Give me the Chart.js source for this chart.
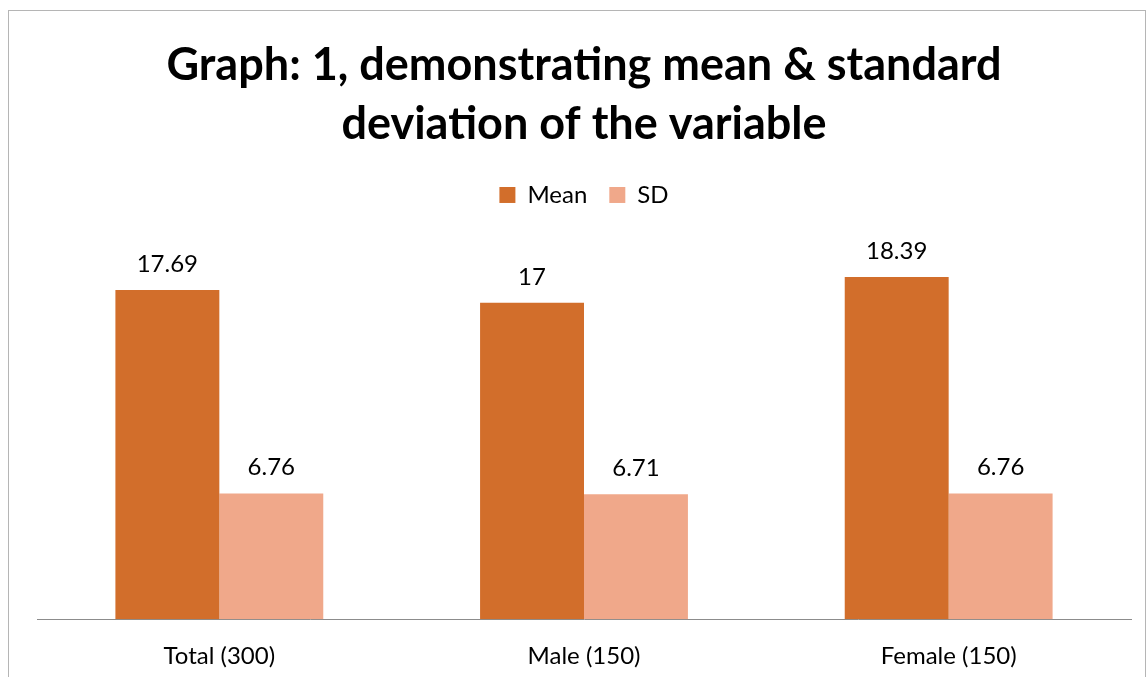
<!DOCTYPE html>
<html>
<head>
<meta charset="utf-8">
<script src="https://cdn.jsdelivr.net/npm/chart.js@4"></script>
<style>
  html, body { margin: 0; padding: 0; background: #fff; }
  #wrap { position: relative; width: 1146px; height: 677px; overflow: hidden; }
  #frame { position: absolute; left: 8px; top: 10px; width: 1136px; height: 700px; border: 1px solid #b5b5b5; }
  canvas { position: absolute; left: 0; top: 0; }
</style>
</head>
<body>
<div id="wrap">
  <div id="frame"></div>
  <canvas id="chart" width="1146" height="677"></canvas>
</div>
<script>
const categories = ["Total (300)", "Male (150)", "Female (150)"];
const meanValues = [17.69, 17, 18.39];
const sdValues = [6.76, 6.71, 6.76];

const FONT = "Lato, 'Open Sans', sans-serif";

// draw the value above every bar
const valueLabels = {
    id: "valueLabels",
    afterDatasetsDraw(chart){
        const ctx = chart.ctx;
        ctx.save();
        ctx.font = "24px " + FONT;
        ctx.fillStyle = "#000";
        ctx.textAlign = "center";
        ctx.textBaseline = "middle";
        chart.data.datasets.forEach((ds, di) => {
            chart.getDatasetMeta(di).data.forEach((bar, i) => {
                ctx.fillText(String(ds.data[i]), bar.x, bar.y - 26);
            });
        });
        ctx.restore();
    }
};

// extra room under the legend
const legendGap = {
    id: "legendGap",
    beforeInit(chart){
        const fit = chart.legend.fit;
        chart.legend.fit = function(){
            fit.bind(chart.legend)();
            this.height += 30;
        };
    }
};

new Chart(document.getElementById("chart"), {
    type: "bar",
    data: {
        labels: categories,
        datasets: [
            {label: "Mean", data: meanValues, backgroundColor: "#d26e2b"},
            {label: "SD", data: sdValues, backgroundColor: "#f0a88a"}
        ]
    },
    options: {
        responsive: false,
        animation: false,
        layout: {padding: {left: 37, right: 15, top: 10, bottom: -17}},
        datasets: {bar: {barPercentage: 1, categoryPercentage: 0.57}},
        plugins: {
            title: {
                display: true,
                text: ["Graph: 1, demonstrating mean & standard", "deviation of the variable"],
                color: "#000",
                font: {family: FONT, size: 45, weight: "bold", lineHeight: 1.333},
                padding: {top: 25, bottom: 6}
            },
            legend: {
                labels: {
                    color: "#000",
                    font: {family: FONT, size: 24},
                    boxWidth: 16,
                    boxHeight: 16,
                    padding: 22
                }
            },
            tooltip: {enabled: false}
        },
        scales: {
            x: {
                grid: {display: false, drawTicks: false},
                border: {color: "#8c8c8c", width: 1},
                ticks: {color: "#000", font: {family: FONT, size: 24}, padding: 23}
            },
            y: {display: false, min: 0, max: 20}
        }
    },
    plugins: [valueLabels, legendGap]
});
</script>
</body>
</html>
